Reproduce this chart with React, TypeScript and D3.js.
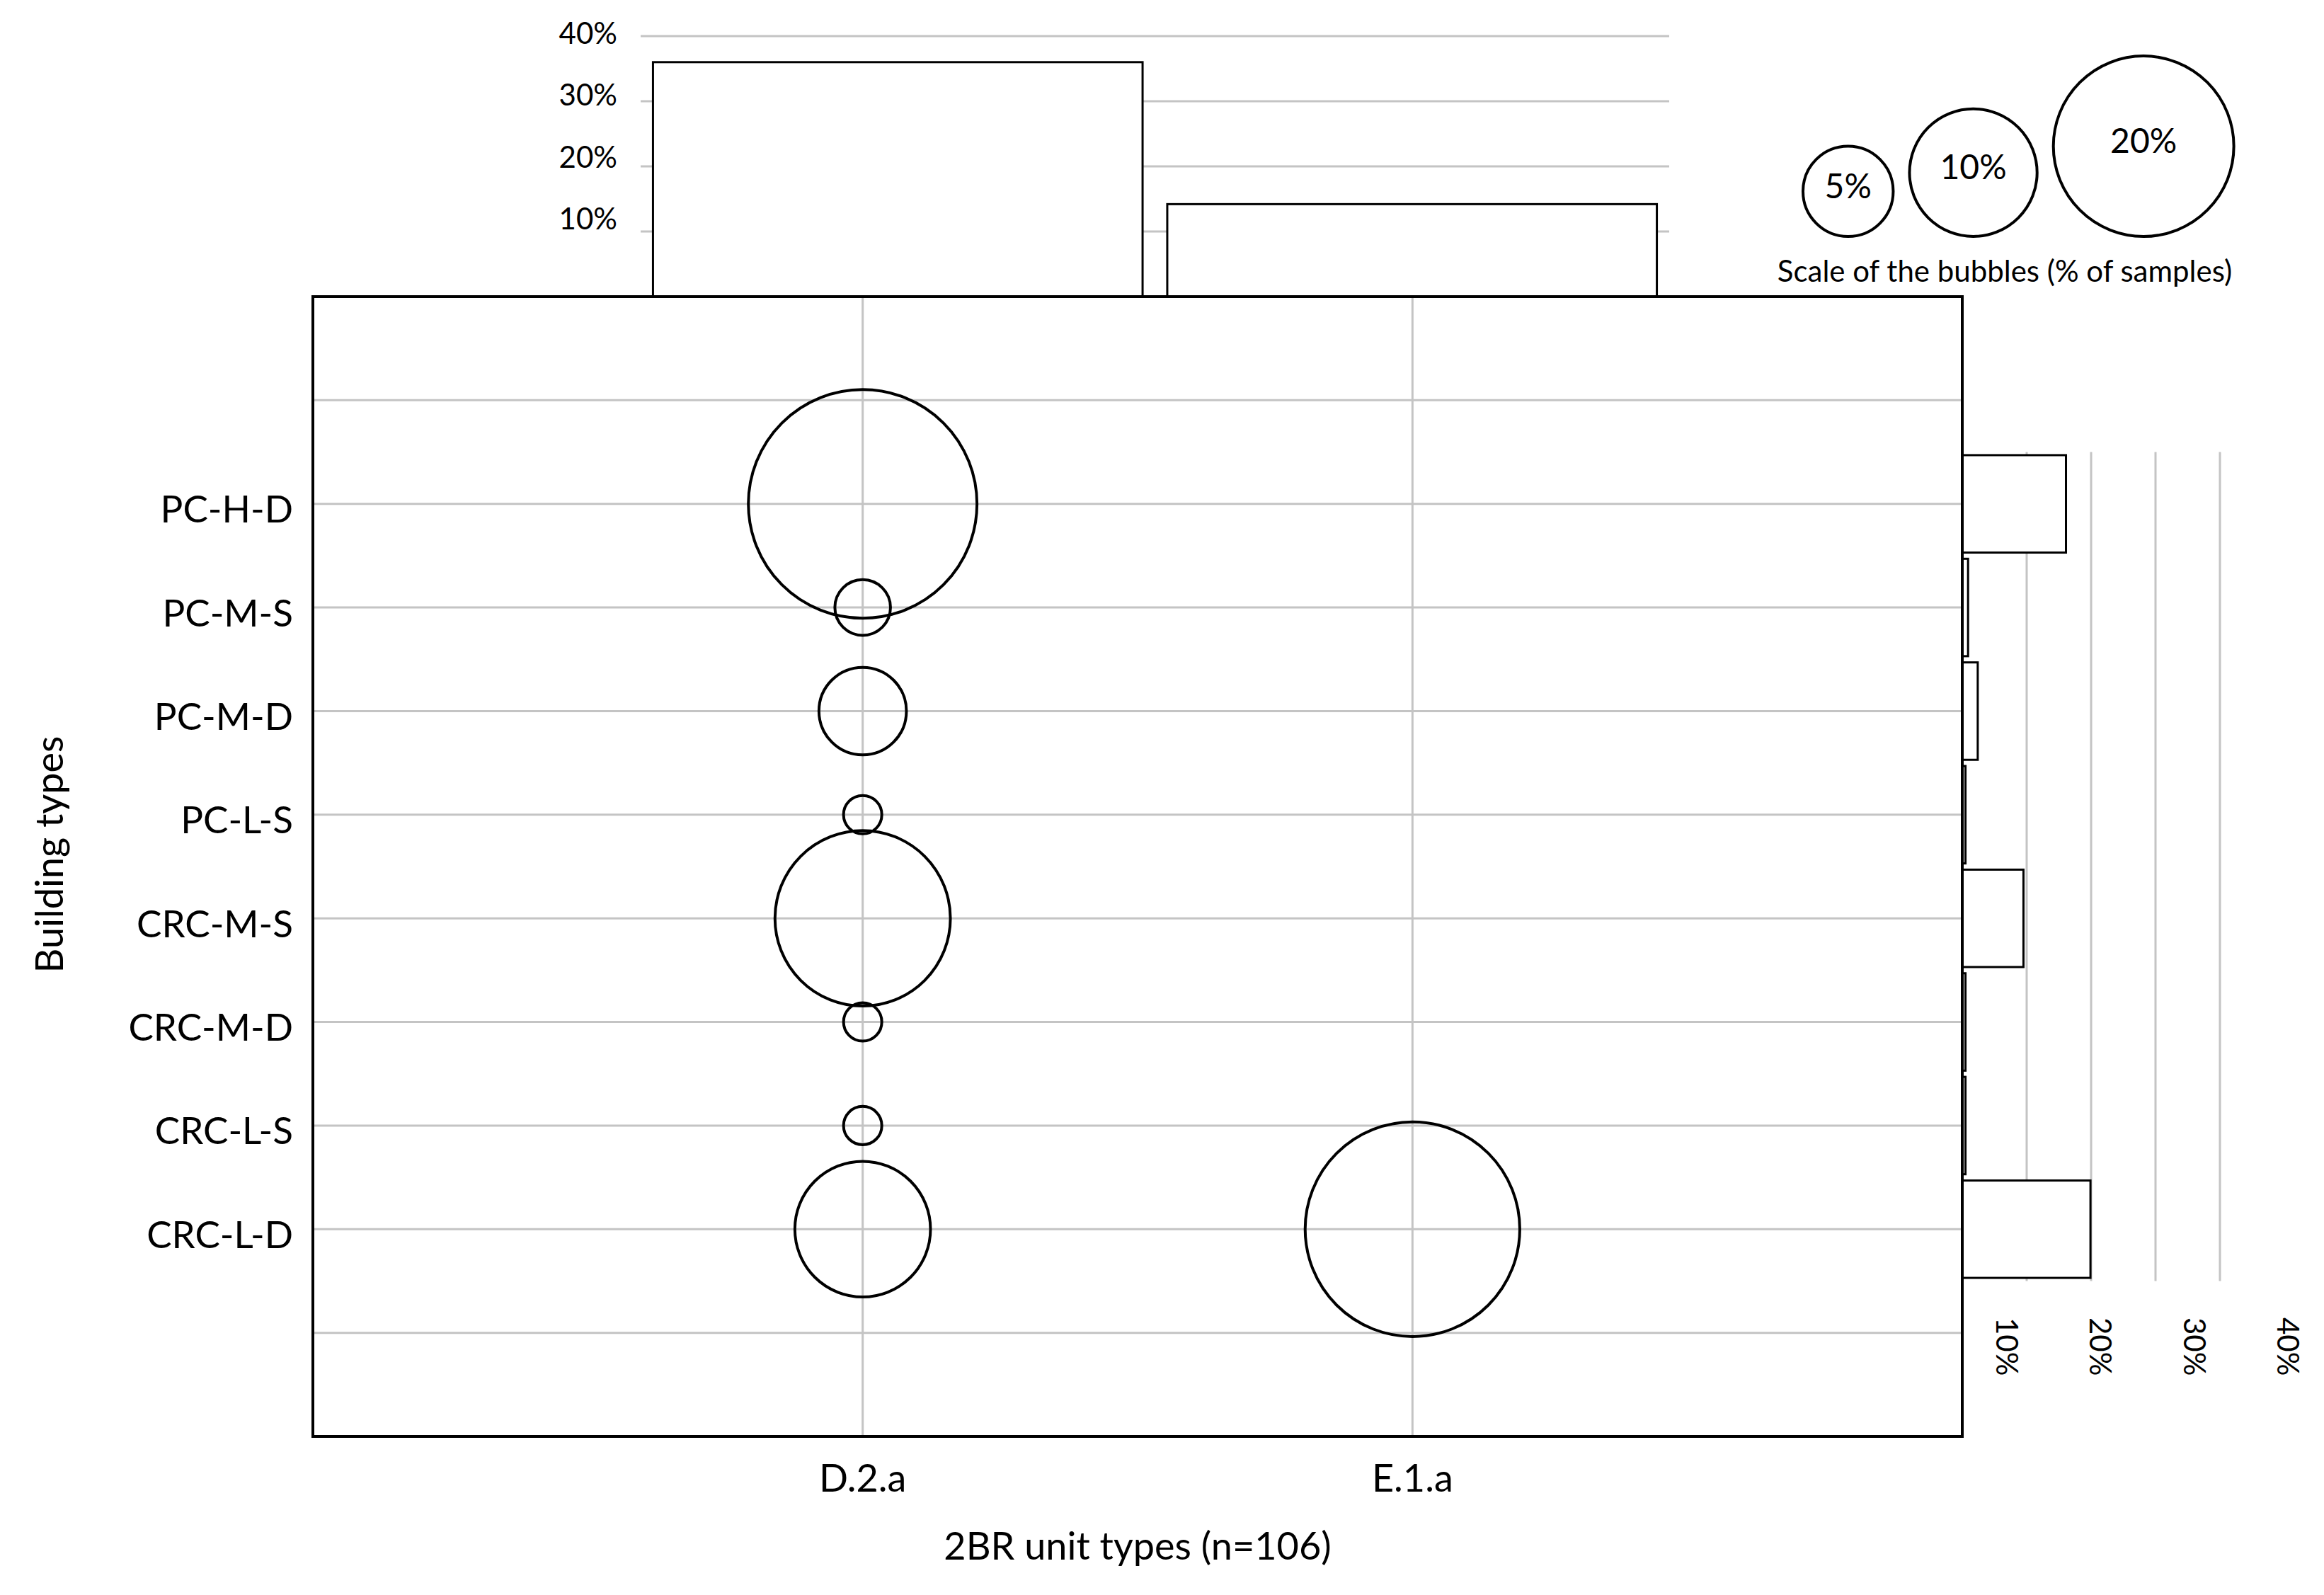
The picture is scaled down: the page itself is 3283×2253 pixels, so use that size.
import * as d3 from "d3";
import { useEffect, useRef } from "react";

// categories
const buildingTypes = ["PC-H-D", "PC-M-S", "PC-M-D", "PC-L-S", "CRC-M-S", "CRC-M-D", "CRC-L-S", "CRC-L-D"];
const unitTypes = ["D.2.a", "E.1.a"];

// bubble sizes, % of 2BR samples (n=106), one array per unit type
const d2aShare = [32.1, 1.9, 4.7, 0.9, 18.9, 0.9, 0.9, 11.3];
const e1aShare = [0, 0, 0, 0, 0, 0, 0, 28.3];

// marginal bars, % of all samples
const unitTotals = [36.0, 14.2];
const buildingTotals = [16.1, 0.9, 2.4, 0.5, 9.5, 0.5, 0.5, 19.9];

const percentTicks = [10, 20, 30, 40];
const legendSizes = [5, 10, 20];

const W = 3283;
const H = 2253;
const FONT = "Lato, 'Open Sans', sans-serif";

const App = () => {
  const svgRef = useRef<SVGSVGElement>(null);

  useEffect(() => {
    const svg = d3.select(svgRef.current);
    svg.selectAll("*").remove();
    svg.append("rect").attr("width", W).attr("height", H).attr("fill", "#fff");

    const box = { left: 442, right: 2772, top: 419, bottom: 2029 };
    const grey = "#c4c4c4";

    // main bubble grid: columns at 1,2 and rows at 2..9
    const x = d3.scaleLinear().domain([0, 3]).range([box.left, box.right]);
    const y = d3.scaleLinear().domain([0, 11]).range([box.top, box.bottom]);
    const r = d3.scaleSqrt().domain([0, 100]).range([0, 285]);
    const colOf = (j: number) => j + 1;
    const rowOf = (i: number) => i + 2;

    const grid = svg.append("g").attr("stroke", grey).attr("stroke-width", 3);
    grid
      .selectAll(".h")
      .data(d3.range(1, 11))
      .join("line")
      .attr("x1", box.left)
      .attr("x2", box.right)
      .attr("y1", (d) => y(d))
      .attr("y2", (d) => y(d));
    grid
      .selectAll(".v")
      .data(unitTypes)
      .join("line")
      .attr("x1", (_, j) => x(colOf(j)))
      .attr("x2", (_, j) => x(colOf(j)))
      .attr("y1", box.top)
      .attr("y2", box.bottom);

    const bubbles = [d2aShare, e1aShare]
      .flatMap((vals, j) => vals.map((v, i) => ({ j, i, v })))
      .filter((d) => d.v > 0);

    svg
      .append("g")
      .selectAll("circle")
      .data(bubbles)
      .join("circle")
      .attr("cx", (d) => x(colOf(d.j)))
      .attr("cy", (d) => y(rowOf(d.i)))
      .attr("r", (d) => r(d.v))
      .attr("fill", "none")
      .attr("stroke", "#000")
      .attr("stroke-width", 4);

    // top bars (unit type totals)
    const xTop = d3
      .scaleBand()
      .domain(unitTypes)
      .range([905, 2358])
      .paddingInner(0.048)
      .paddingOuter(0.024);
    const yTop = d3.scaleLinear().domain([0, 40]).range([box.top, 51]);
    const yTopLabel = d3.scaleLinear().domain([10, 40]).range([308, 46]);

    svg
      .append("g")
      .selectAll("line")
      .data(percentTicks)
      .join("line")
      .attr("x1", 905)
      .attr("x2", 2358)
      .attr("y1", (d) => yTop(d))
      .attr("y2", (d) => yTop(d))
      .attr("stroke", grey)
      .attr("stroke-width", 3);

    svg
      .append("g")
      .selectAll("rect")
      .data(unitTotals)
      .join("rect")
      .attr("x", (_, j) => xTop(unitTypes[j]) as number)
      .attr("y", (d) => yTop(d))
      .attr("width", xTop.bandwidth())
      .attr("height", (d) => yTop(0) - yTop(d))
      .attr("fill", "#fff")
      .attr("stroke", "#000")
      .attr("stroke-width", 3);

    svg
      .append("g")
      .selectAll("text")
      .data(percentTicks)
      .join("text")
      .attr("x", 872)
      .attr("y", (d) => yTopLabel(d))
      .attr("text-anchor", "end")
      .attr("dominant-baseline", "central")
      .attr("font-family", FONT)
      .attr("font-size", 42)
      .text((d) => `${d}%`);

    // right bars (building type totals)
    const xRight = d3.scaleLinear().domain([0, 40]).range([box.right, 3136]);
    const xRightLabel = d3.scaleLinear().domain([10, 40]).range([2836, 3233]);
    const step = y(1) - y(0);

    svg
      .append("g")
      .selectAll("line")
      .data(percentTicks)
      .join("line")
      .attr("x1", (d) => xRight(d))
      .attr("x2", (d) => xRight(d))
      .attr("y1", y(1.5))
      .attr("y2", y(9.5))
      .attr("stroke", grey)
      .attr("stroke-width", 3);

    svg
      .append("g")
      .selectAll("rect")
      .data(buildingTotals)
      .join("rect")
      .attr("x", xRight(0))
      .attr("y", (_, i) => y(rowOf(i)) - step * 0.47)
      .attr("width", (d) => xRight(d) - xRight(0))
      .attr("height", step * 0.94)
      .attr("fill", "#fff")
      .attr("stroke", "#000")
      .attr("stroke-width", 3);

    svg
      .append("g")
      .selectAll("text")
      .data(percentTicks)
      .join("text")
      .attr("transform", (d) => `translate(${xRightLabel(d)}, 1861) rotate(90)`)
      .attr("dominant-baseline", "central")
      .attr("font-family", FONT)
      .attr("font-size", 42)
      .text((d) => `${d}%`);

    // plot frame
    svg
      .append("rect")
      .attr("x", box.left)
      .attr("y", box.top)
      .attr("width", box.right - box.left)
      .attr("height", box.bottom - box.top)
      .attr("fill", "none")
      .attr("stroke", "#000")
      .attr("stroke-width", 4);

    // category labels
    svg
      .append("g")
      .selectAll("text")
      .data(buildingTypes)
      .join("text")
      .attr("x", 414)
      .attr("y", (_, i) => y(rowOf(i)) + 6)
      .attr("text-anchor", "end")
      .attr("dominant-baseline", "central")
      .attr("font-family", FONT)
      .attr("font-size", 53)
      .text((d) => d);

    svg
      .append("g")
      .selectAll("text")
      .data(unitTypes)
      .join("text")
      .attr("x", (_, j) => x(colOf(j)))
      .attr("y", 2086)
      .attr("text-anchor", "middle")
      .attr("dominant-baseline", "central")
      .attr("font-family", FONT)
      .attr("font-size", 54)
      .text((d) => d);

    // axis titles
    svg
      .append("text")
      .attr("x", (box.left + box.right) / 2)
      .attr("y", 2182)
      .attr("text-anchor", "middle")
      .attr("dominant-baseline", "central")
      .attr("font-family", FONT)
      .attr("font-size", 54)
      .text("2BR unit types (n=106)");

    svg
      .append("text")
      .attr("transform", "translate(68, 1207) rotate(-90)")
      .attr("text-anchor", "middle")
      .attr("dominant-baseline", "central")
      .attr("font-family", FONT)
      .attr("font-size", 54)
      .text("Building types");

    // bubble size legend, circles sitting on a common bottom line
    const legendBottom = 334;
    const gap = 23;
    let cursor = 2547;
    const legend = legendSizes.map((v) => {
      const rad = r(v);
      const cx = cursor + rad;
      cursor = cx + rad + gap;
      return { v, cx, cy: legendBottom - rad, rad };
    });

    const lg = svg.append("g");
    lg.selectAll("circle")
      .data(legend)
      .join("circle")
      .attr("cx", (d) => d.cx)
      .attr("cy", (d) => d.cy)
      .attr("r", (d) => d.rad)
      .attr("fill", "none")
      .attr("stroke", "#000")
      .attr("stroke-width", 4);
    lg.selectAll("text")
      .data(legend)
      .join("text")
      .attr("x", (d) => d.cx)
      .attr("y", (d) => d.cy - 9)
      .attr("text-anchor", "middle")
      .attr("dominant-baseline", "central")
      .attr("font-family", FONT)
      .attr("font-size", 48)
      .text((d) => `${d.v}%`);

    svg
      .append("text")
      .attr("x", 2832)
      .attr("y", 398)
      .attr("text-anchor", "middle")
      .attr("font-family", FONT)
      .attr("font-size", 42)
      .text("Scale of the bubbles (% of samples)");
  }, []);

  return (
    <svg
      ref={svgRef}
      width={W}
      height={H}
      style={{ position: "absolute", left: 0, top: 0, display: "block" }}
    />
  );
};

export default App;
